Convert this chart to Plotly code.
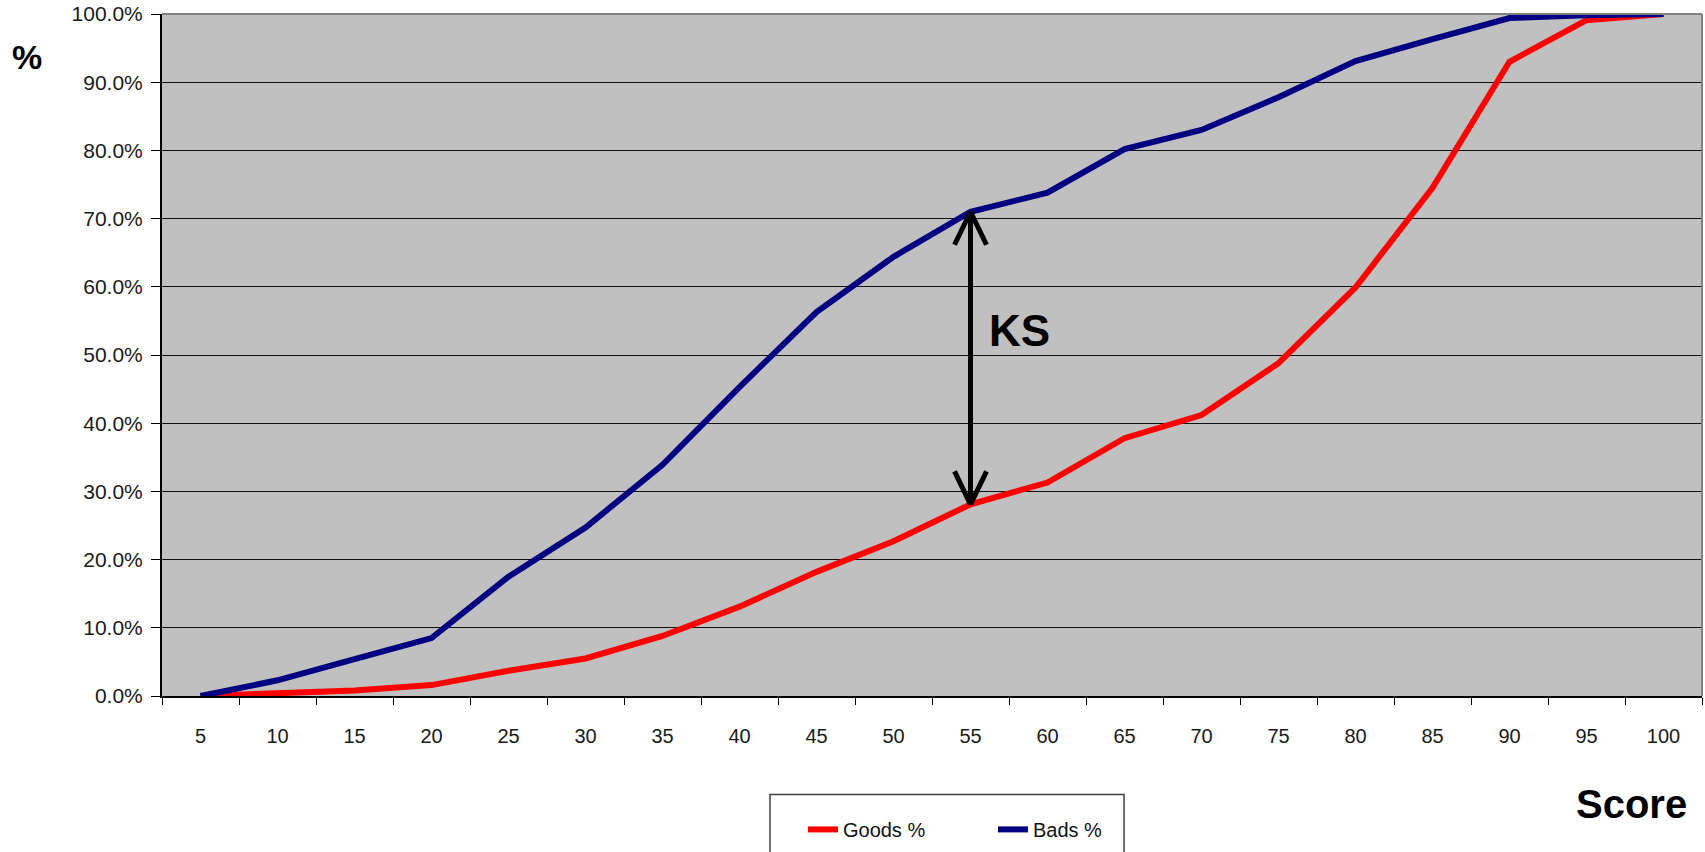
import plotly.graph_objects as go

# ---- data ----
scores = [5, 10, 15, 20, 25, 30, 35, 40, 45, 50, 55, 60, 65, 70, 75, 80, 85, 90, 95, 100]
goods_pct = [0.0, 0.3, 0.8, 1.6, 3.7, 5.5, 8.8, 13.1, 18.2, 22.7, 28.1, 31.3, 37.8, 41.2, 48.8, 59.9, 74.5, 93.0, 99.1, 100.0]
bads_pct = [0.0, 2.3, 5.4, 8.5, 17.5, 24.7, 33.9, 45.3, 56.3, 64.4, 71.0, 73.8, 80.2, 83.0, 87.8, 93.1, 96.3, 99.4, 99.8, 100.0]
x_tick_labels = [str(s) for s in scores]
y_ticks = [0, 10, 20, 30, 40, 50, 60, 70, 80, 90, 100]
y_tick_labels = [f"{v:.1f}%" for v in y_ticks]
ks_score = 55

FONT = "Liberation Sans, Arial, sans-serif"
ks_i = scores.index(ks_score)

fig = go.Figure()
fig.add_trace(go.Scatter(x=scores, y=goods_pct, mode="lines", name="Goods %",
                         line=dict(color="#ff0000", width=6)))
fig.add_trace(go.Scatter(x=scores, y=bads_pct, mode="lines", name="Bads %",
                         line=dict(color="#000080", width=6)))

step = scores[1] - scores[0]
boundaries = [s - step / 2 for s in scores] + [scores[-1] + step / 2]

fig.update_xaxes(
    type="linear", range=[boundaries[0], boundaries[-1]],
    tickmode="array", tickvals=scores, ticktext=x_tick_labels,
    ticks="", ticklabelstandoff=21,
    showline=True, linecolor="black", linewidth=2,
    showgrid=False, zeroline=False,
    tickfont=dict(family=FONT, size=20, color="#1a1a1a"),
    minor=dict(tickmode="array", tickvals=boundaries, ticks="outside",
               ticklen=7, tickcolor="black", tickwidth=1, showgrid=False),
)
fig.update_yaxes(
    range=[0, 100], tickmode="array", tickvals=y_ticks, ticktext=y_tick_labels,
    ticks="outside", ticklen=9, tickcolor="black", tickwidth=1,
    ticklabelstandoff=4,
    showline=True, linecolor="black", linewidth=2,
    showgrid=True, gridcolor="#111111", gridwidth=1, zeroline=False,
    tickfont=dict(family=FONT, size=21, color="#1a1a1a"),
)

shapes = []
# gray top and right borders of the plot area
shapes.append(dict(type="line", xref="paper", yref="paper", x0=0, x1=1, y0=1, y1=1,
                   line=dict(color="#808080", width=2)))
shapes.append(dict(type="line", xref="paper", yref="paper", x0=1, x1=1, y0=0, y1=1,
                   line=dict(color="#808080", width=2)))
# KS double arrow
xk, yt, yb = scores[ks_i], bads_pct[ks_i], goods_pct[ks_i]
shapes.append(dict(type="line", xref="x", yref="y", x0=xk, x1=xk, y0=yt, y1=yb,
                   line=dict(color="black", width=5)))
for dx in (-16, 16):
    shapes.append(dict(type="line", xref="x", yref="y", xsizemode="pixel", ysizemode="pixel",
                       xanchor=xk, yanchor=yt, x0=dx, y0=-33, x1=0, y1=0,
                       line=dict(color="black", width=5)))
    shapes.append(dict(type="line", xref="x", yref="y", xsizemode="pixel", ysizemode="pixel",
                       xanchor=xk, yanchor=yb, x0=dx, y0=33, x1=0, y1=0,
                       line=dict(color="black", width=5)))
# legend frame
shapes.append(dict(type="rect", xref="paper", yref="paper",
                   x0=0.3948, x1=0.6247, y0=-0.1445, y1=-0.40,
                   line=dict(color="#404040", width=1.5), fillcolor="rgba(0,0,0,0)"))

annotations = [
    dict(text="<b>KS</b>", x=xk, y=53.6, xref="x", yref="y", xanchor="left", yanchor="middle",
         xshift=16, showarrow=False, font=dict(family=FONT, size=44, color="black")),
    dict(text="<b>%</b>", x=-0.0877, y=0.937, xref="paper", yref="paper",
         xanchor="center", yanchor="middle",
         showarrow=False, font=dict(family=FONT, size=34, color="black")),
    dict(text="<b>Score</b>", x=0.9545, y=-0.1577, xref="paper", yref="paper",
         xanchor="center", yanchor="middle",
         showarrow=False, font=dict(family=FONT, size=40, color="black")),
]

fig.update_layout(
    width=1705, height=852,
    margin=dict(l=162, r=3, t=14, b=153, pad=0),
    paper_bgcolor="white", plot_bgcolor="#c0c0c0",
    shapes=shapes, annotations=annotations,
    showlegend=True,
    legend=dict(orientation="h", x=0.4162, xanchor="left", y=-0.1956, yanchor="middle",
                xref="paper", yref="paper",
                entrywidth=145, entrywidthmode="pixels",
                bgcolor="rgba(0,0,0,0)", borderwidth=0,
                font=dict(family=FONT, size=20, color="#111111")),
    font=dict(family=FONT),
)

fig.write_html("out.html", config={"displayModeBar": False},
               post_script="document.body.style.margin='0';document.body.style.overflow='hidden';")
